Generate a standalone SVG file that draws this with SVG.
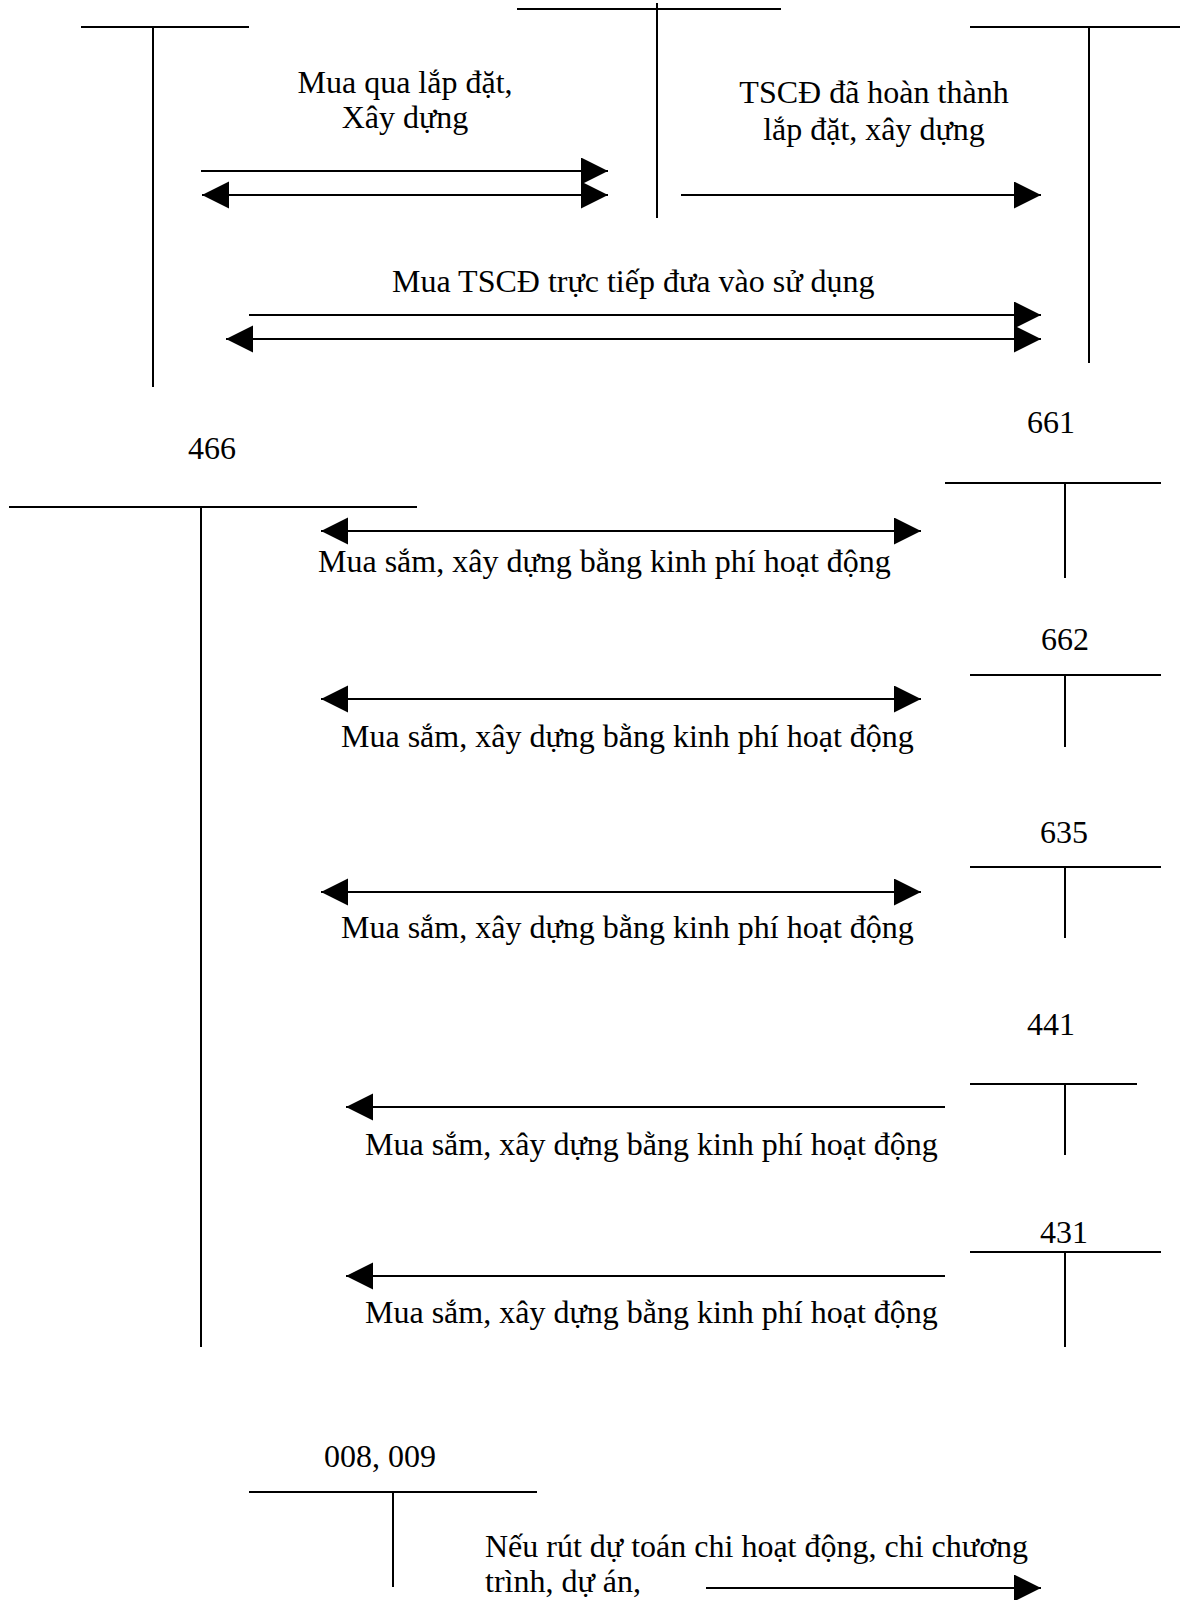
<svg xmlns="http://www.w3.org/2000/svg" width="1180" height="1600" viewBox="0 0 1180 1600">
<style>
.t{font-family:"Liberation Serif","Times New Roman",serif;font-size:32px;fill:#000}
.m{text-anchor:middle}
.ln{stroke:#000;stroke-width:2;fill:none}
.ar{stroke:#000;stroke-width:2.2;fill:none}
.e{marker-end:url(#ah)}
.b{marker-start:url(#ah);marker-end:url(#ah)}
</style>
<defs>
<marker id="ah" markerUnits="userSpaceOnUse" markerWidth="28" markerHeight="28" refX="27" refY="13.5" orient="auto-start-reverse" viewBox="0 0 28 28">
<path d="M0,0 L27,13.5 L0,27 Z" fill="#000"/>
</marker>
</defs>
<rect width="1180" height="1600" fill="#fff"/>
<g id="acc-left">
<line class="ln" x1="81" y1="27" x2="249" y2="27"/>
<line class="ln" x1="153" y1="27" x2="153" y2="387"/>
</g>
<g id="acc-mid">
<line class="ln" x1="517" y1="9" x2="781" y2="9"/>
<line class="ln" x1="657" y1="3" x2="657" y2="218"/>
</g>
<g id="acc-right">
<line class="ln" x1="970" y1="27" x2="1180" y2="27"/>
<line class="ln" x1="1089" y1="27" x2="1089" y2="363"/>
</g>
<g id="acc-466">
<text class="t m" x="212" y="459">466</text>
<line class="ln" x1="9" y1="507" x2="417" y2="507"/>
<line class="ln" x1="201" y1="507" x2="201" y2="1347"/>
</g>
<g id="acc-661">
<text class="t m" x="1051" y="433">661</text>
<line class="ln" x1="945" y1="483" x2="1161" y2="483"/>
<line class="ln" x1="1065" y1="483" x2="1065" y2="578"/>
</g>
<g id="acc-662">
<text class="t m" x="1065" y="650">662</text>
<line class="ln" x1="970" y1="675" x2="1161" y2="675"/>
<line class="ln" x1="1065" y1="675" x2="1065" y2="747"/>
</g>
<g id="acc-635">
<text class="t m" x="1064" y="843">635</text>
<line class="ln" x1="970" y1="867" x2="1161" y2="867"/>
<line class="ln" x1="1065" y1="867" x2="1065" y2="938"/>
</g>
<g id="acc-441">
<text class="t m" x="1051" y="1035">441</text>
<line class="ln" x1="970" y1="1084" x2="1137" y2="1084"/>
<line class="ln" x1="1065" y1="1084" x2="1065" y2="1155"/>
</g>
<g id="acc-431">
<text class="t m" x="1064" y="1243">431</text>
<line class="ln" x1="970" y1="1252" x2="1161" y2="1252"/>
<line class="ln" x1="1065" y1="1252" x2="1065" y2="1347"/>
</g>
<g id="acc-008-009">
<text class="t m" x="380" y="1467">008, 009</text>
<line class="ln" x1="249" y1="1492" x2="537" y2="1492"/>
<line class="ln" x1="393" y1="1492" x2="393" y2="1587"/>
</g>
<g id="connectors">
<line class="ar e" x1="201" y1="171" x2="608" y2="171"/>
<line class="ar b" x1="202" y1="195" x2="608" y2="195"/>
<line class="ar e" x1="681" y1="195" x2="1041" y2="195"/>
<line class="ar e" x1="249" y1="315" x2="1041" y2="315"/>
<line class="ar b" x1="226" y1="339" x2="1041" y2="339"/>
<line class="ar b" x1="321" y1="531" x2="921" y2="531"/>
<line class="ar b" x1="321" y1="699" x2="921" y2="699"/>
<line class="ar b" x1="321" y1="892" x2="921" y2="892"/>
<line class="ar e" x1="945" y1="1107" x2="346" y2="1107"/>
<line class="ar e" x1="945" y1="1276" x2="346" y2="1276"/>
<line class="ar e" x1="706" y1="1588" x2="1041" y2="1588"/>
</g>
<g id="labels">
<text class="t m" x="405" y="93">Mua qua lắp đặt,</text>
<text class="t m" x="405" y="128">Xây dựng</text>
<text class="t m" x="874" y="103">TSCĐ đã hoàn thành</text>
<text class="t m" x="874" y="140">lắp đặt, xây dựng</text>
<text class="t" x="392" y="292">Mua TSCĐ trực tiếp đưa vào sử dụng</text>
<text class="t" x="318" y="572">Mua sắm, xây dựng bằng kinh phí hoạt động</text>
<text class="t" x="341" y="747">Mua sắm, xây dựng bằng kinh phí hoạt động</text>
<text class="t" x="341" y="938">Mua sắm, xây dựng bằng kinh phí hoạt động</text>
<text class="t" x="365" y="1155">Mua sắm, xây dựng bằng kinh phí hoạt động</text>
<text class="t" x="365" y="1323">Mua sắm, xây dựng bằng kinh phí hoạt động</text>
<text class="t" x="485" y="1557">Nếu rút dự toán chi hoạt động, chi chương</text>
<text class="t" x="485" y="1592">trình, dự án,</text>
</g>
</svg>
